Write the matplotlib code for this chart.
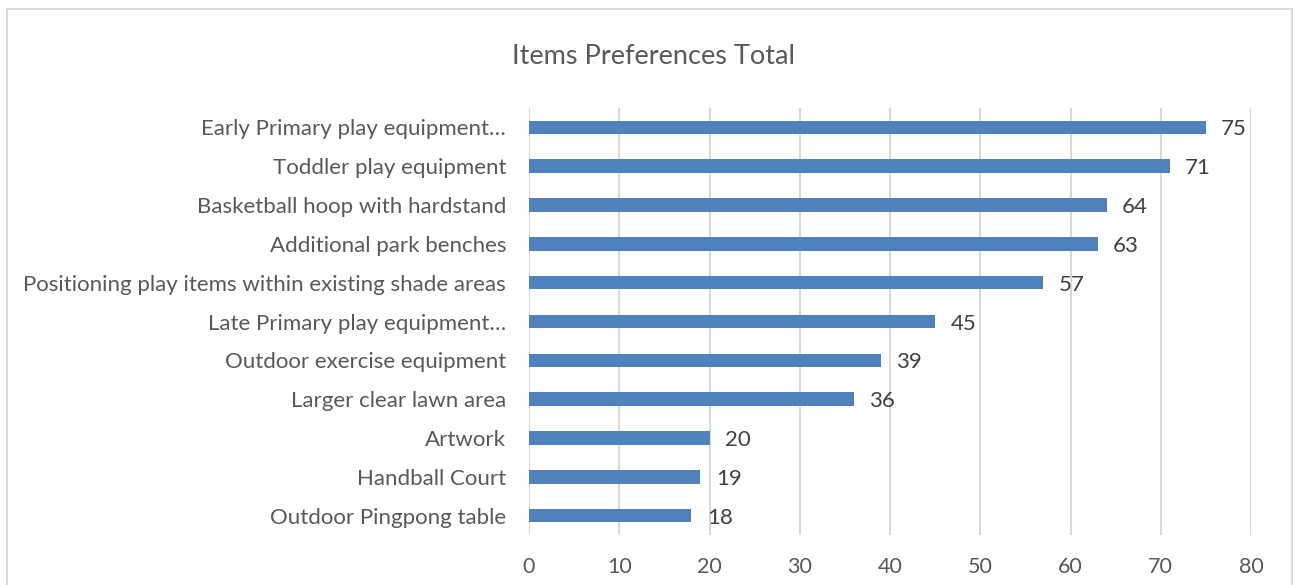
import matplotlib
matplotlib.use("Agg")
import matplotlib.pyplot as plt
from matplotlib.patches import Rectangle

plt.rcParams['font.family'] = ['Lato', 'DejaVu Sans']

categories = [
    "Early Primary play equipment…",
    "Toddler play equipment",
    "Basketball hoop with hardstand",
    "Additional park benches",
    "Positioning play items within existing shade areas",
    "Late Primary play equipment…",
    "Outdoor exercise equipment",
    "Larger clear lawn area",
    "Artwork",
    "Handball Court",
    "Outdoor Pingpong table",
]
values = [75, 71, 64, 63, 57, 45, 39, 36, 20, 19, 18]
xticks = [0, 10, 20, 30, 40, 50, 60, 70, 80]
title = "Items Preferences Total"

W, H = 1293, 585
fig = plt.figure(figsize=(W / 100, H / 100), dpi=100)
ax = fig.add_axes([529 / W, 1 - 535 / H, (1251 - 529) / W, (535 - 108) / H])

text_col = "#595959"
bar_col = "#4f81bd"

n = len(categories)
ypos = list(range(n))
ax.barh(ypos, values, height=0.35, color=bar_col, zorder=3)
ax.set_ylim(n - 0.5, -0.5)
ax.set_xlim(0, 80)
ax.set_xticks(xticks)
ax.set_xticklabels([str(t) for t in xticks], fontsize=15.5, color=text_col)
ax.set_yticks(ypos)
ax.set_yticklabels(categories, fontsize=16, color=text_col)
ax.tick_params(axis='both', length=0)
ax.tick_params(axis='y', pad=16.5)
ax.tick_params(axis='x', pad=16)
ax.grid(axis='x', color="#d9d9d9", linewidth=1.5, zorder=0)
for s in ax.spines.values():
    s.set_visible(False)

for y, v in zip(ypos, values):
    ax.annotate(str(v), xy=(v, y), xytext=(11, -1.5), textcoords='offset points',
                ha='left', va='center', fontsize=16, color="#404040")

fig.text(654 / W, 1 - 56 / H, title, ha='center', va='center', fontsize=19.5, color=text_col)

border = Rectangle((7 / W, -0.05), (1292 - 7) / W, 1.05 - 9 / H, transform=fig.transFigure,
                   fill=False, edgecolor="#d9d9d9", linewidth=1.5)
fig.add_artist(border)

fig.savefig("out.png", dpi=100)
